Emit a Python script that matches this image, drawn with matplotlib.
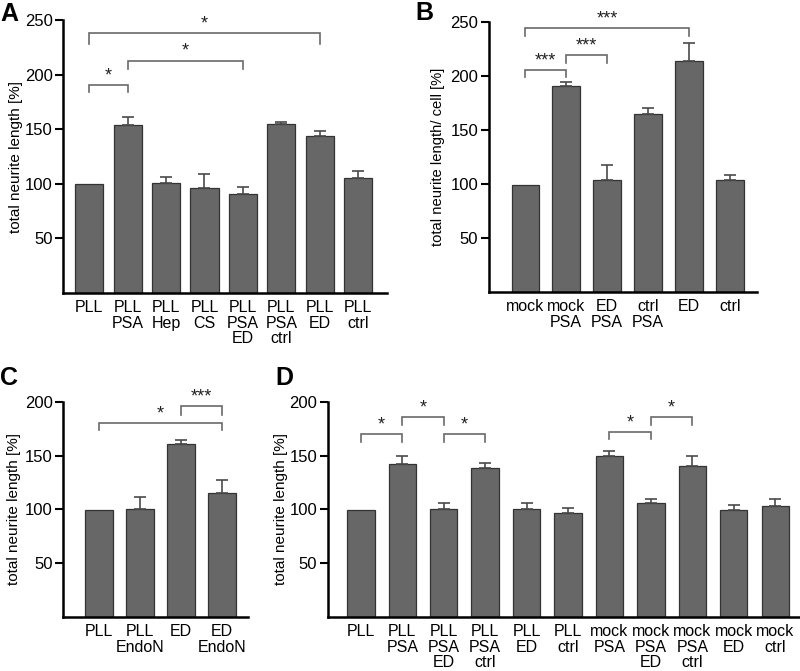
import matplotlib
matplotlib.use("Agg")
import matplotlib.pyplot as plt

plt.rcParams['font.family'] = ['Liberation Sans', 'DejaVu Sans']

# ---- data ----
a_labels = ["PLL", "PLL\nPSA", "PLL\nHep", "PLL\nCS", "PLL\nPSA\nED", "PLL\nPSA\nctrl", "PLL\nED", "PLL\nctrl"]
a_values = [100, 154, 101, 96, 91, 154.5, 144, 105.5]
a_errors = [0, 7.5, 5.5, 13, 6, 2.5, 4, 6.5]
a_sig = [(0, 6, 238, 228, "*"), (1, 4, 213, 205, "*"), (0, 1, 191, 184, "*")]

b_labels = ["mock", "mock\nPSA", "ED\nPSA", "ctrl\nPSA", "ED", "ctrl"]
b_values = [99, 191, 103.5, 165, 214, 104]
b_errors = [0, 4, 14, 6, 17, 4.5]
b_sig = [(0, 4, 245, 237, "***"), (1, 2, 219.5, 212, "***"), (0, 1, 206, 199, "***")]

c_labels = ["PLL", "PLL\nEndoN", "ED", "ED\nEndoN"]
c_values = [99.5, 100, 160.5, 115.5]
c_errors = [0, 11.5, 3.5, 12]
c_sig = [(0, 3, 180.5, 173.5, "*"), (2, 3, 196, 188, "***")]

d_labels = ["PLL", "PLL\nPSA", "PLL\nPSA\nED", "PLL\nPSA\nctrl", "PLL\nED", "PLL\nctrl",
            "mock\nPSA", "mock\nPSA\nED", "mock\nPSA\nctrl", "mock\nED", "mock\nctrl"]
d_values = [99.5, 142.5, 100.5, 138, 100.5, 96.5, 149.5, 105.5, 140.5, 99.5, 103]
d_errors = [0, 7, 5, 5.5, 5, 5, 4.5, 4.5, 9, 4.5, 7]
d_sig = [(0, 1, 170, 163, "*"), (1, 2, 185.5, 178.5, "*"), (2, 3, 170, 163, "*"),
         (6, 7, 172, 165, "*"), (7, 8, 185.5, 178.5, "*")]

BAR = "#676767"
EDGE = "#333333"
BRK = "#6a6a6a"

fig = plt.figure(figsize=(8, 6.71), dpi=100)


def panel(rect, labels, values, errors, sig, ymax, ylabel, ylabel_size, xlim, width,
          letter, letter_xy, ylabel_x):
    ax = fig.add_axes(rect)
    x = list(range(len(values)))
    ax.bar(x, values, width=width, color=BAR, edgecolor=EDGE, linewidth=0.9, zorder=2)
    ex = [xi for xi, e in zip(x, errors) if e > 0]
    ev = [v for v, e in zip(values, errors) if e > 0]
    ee = [e for e in errors if e > 0]
    ax.errorbar(ex, ev, yerr=[[0] * len(ee), ee], fmt="none",
                ecolor="#4a4a4a", elinewidth=1.2, capsize=4.5, capthick=1.2, zorder=3)
    ax.set_xlim(*xlim)
    ax.set_ylim(0, ymax)
    ax.set_yticks(list(range(50, ymax + 1, 50)))
    ax.set_xticks(x)
    ax.set_xticklabels(labels, fontsize=11.5, linespacing=1.05)
    ax.tick_params(axis="x", length=0, pad=5)
    ax.tick_params(axis="y", length=6, width=1.5, labelsize=12, pad=1.5, direction="out")
    for s in ("top", "right"):
        ax.spines[s].set_visible(False)
    ax.spines["left"].set_linewidth(1.8)
    ax.spines["bottom"].set_linewidth(1.8)
    ax.set_ylabel(ylabel, fontsize=ylabel_size)
    ax.yaxis.set_label_coords(ylabel_x, 0.5)
    for i, j, ytop, ybot, txt in sig:
        ax.plot([i, i, j, j], [ybot, ytop, ytop, ybot], color=BRK, lw=1.2, zorder=4,
                solid_joinstyle="miter")
        ax.text((i + j) / 2, ytop + 0.5, txt, ha="center", va="bottom", fontsize=13,
                color="#222222")
    fig.text(letter_xy[0], letter_xy[1], letter, fontsize=18, fontweight="bold",
             ha="left", va="top")
    return ax


panel([0.0788, 0.5633, 0.405, 0.4067], a_labels, a_values, a_errors, a_sig, 250,
      "total neurite length [%]", 11, (-0.68, 7.75), 0.73, "A", (0.0, 0.997), -0.125)
panel([0.611, 0.5648, 0.335, 0.402], b_labels, b_values, b_errors, b_sig, 250,
      "total neurite length/ cell [%]", 10.6, (-0.89, 5.66), 0.67, "B", (0.519, 0.999), -0.162)
panel([0.0788, 0.0805, 0.231, 0.3208], c_labels, c_values, c_errors, c_sig, 200,
      "total neurite length [%]", 11, (-0.87, 3.63), 0.67, "C", (0.0, 0.454), -0.227)
panel([0.4096, 0.0805, 0.59, 0.3208], d_labels, d_values, d_errors, d_sig, 200,
      "total neurite length [%]", 11, (-0.80, 10.59), 0.66, "D", (0.344, 0.454), -0.084)

fig.savefig("out.png", dpi=100)
